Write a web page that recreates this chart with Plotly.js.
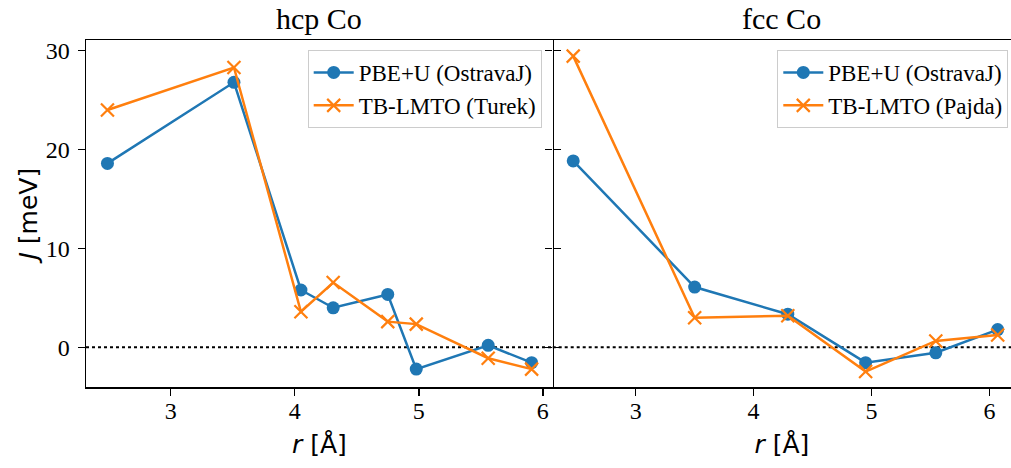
<!DOCTYPE html>
<html>
<head>
<meta charset="utf-8">
<script src="https://cdn.plot.ly/plotly-3.0.1.min.js"></script>
<style>html,body{margin:0;padding:0;background:#fff;}#chart{width:1011px;height:468px;}</style>
</head>
<body>
<div id="chart"></div>
<script>
// ---- data ----
const hcpR = [2.49, 3.51, 4.05, 4.31, 4.75, 4.98, 5.56, 5.91];
const hcpPBE = [18.6, 26.8, 5.8, 4.0, 5.35, -2.2, 0.2, -1.55];
const hcpTB = [24.0, 28.3, 3.6, 6.55, 2.6, 2.35, -1.1, -2.2];

const fccR = [2.47, 3.50, 4.29, 4.95, 5.545, 6.07];
const fccPBE = [18.85, 6.1, 3.35, -1.55, -0.55, 1.8];
const fccTB = [29.45, 3.0, 3.2, -2.45, 0.65, 1.25];

const panelTitles = ["hcp Co", "fcc Co"];
const nameBlue = "PBE+U (OstravaJ)";
const nameOrangeHcp = "TB-LMTO (Turek)";
const nameOrangeFcc = "TB-LMTO (Pajda)";
const xTicks = [3, 4, 5, 6];
const yTicks = [0, 10, 20, 30];

const BLUE = "#1f77b4", ORANGE = "#ff7f0e";
const SERIF = "Liberation Serif, serif";
const SANS = "DejaVu Sans, sans-serif";

const W = 1011, H = 468;
const px = v => v / W;
const py = v => (H - v) / H;

const blueStyle = () => ({mode: "lines+markers", line: {color: BLUE, width: 2.5}, marker: {symbol: "circle", size: 13, color: BLUE}});
const orangeStyle = () => ({mode: "lines+markers", line: {color: ORANGE, width: 2.5}, marker: {symbol: "x-thin", size: 13, color: ORANGE, line: {color: ORANGE, width: 2.2}}});

const traces = [
  Object.assign({x: hcpR, y: hcpPBE, name: nameBlue, xaxis: "x", yaxis: "y", legend: "legend"}, blueStyle()),
  Object.assign({x: hcpR, y: hcpTB, name: nameOrangeHcp, xaxis: "x", yaxis: "y", legend: "legend"}, orangeStyle()),
  Object.assign({x: fccR, y: fccPBE, name: nameBlue, xaxis: "x2", yaxis: "y2", legend: "legend2"}, blueStyle()),
  Object.assign({x: fccR, y: fccTB, name: nameOrangeFcc, xaxis: "x2", yaxis: "y2", legend: "legend2"}, orangeStyle())
];

const yDom = [py(387.3), py(40)];
const tickFont = () => ({family: SERIF, size: 24, color: "#000"});
const axTitleFont = () => ({family: SANS, size: 25, color: "#000"});

const xCommon = () => ({
  showline: true, linecolor: "#000", linewidth: 1.5, mirror: true,
  ticks: "outside", ticklen: 7, tickwidth: 1.5, tickcolor: "#000",
  tickvals: xTicks, tickfont: tickFont(), showgrid: false, zeroline: false,
  ticklabelstandoff: -6,
  automargin: false,
  title: {text: "<i>r</i> [Å]", font: axTitleFont(), standoff: 13}
});

const legendCommon = () => ({
  bgcolor: "rgba(255,255,255,0.8)", bordercolor: "#cccccc", borderwidth: 1,
  font: {family: SERIF, size: 23, color: "#000"},
  itemwidth: 40,
  xanchor: "right", yanchor: "top", xref: "paper", yref: "paper", y: py(50)
});

const layout = {
  width: W, height: H,
  margin: {l: 0, r: 0, t: 0, b: 0},
  paper_bgcolor: "#fff", plot_bgcolor: "#fff",
  showlegend: true,
  xaxis: Object.assign(xCommon(), {domain: [px(86), px(552.7)], range: [2.317, 6.08], anchor: "y"}),
  xaxis2: Object.assign(xCommon(), {domain: [px(552.7), 1], range: [2.296, 6.183], anchor: "y2"}),
  yaxis: {
    domain: yDom, range: [-4.04, 31.08], anchor: "x",
    showline: true, linecolor: "#000", linewidth: 1.5, mirror: "ticks",
    ticks: "outside", ticklen: 7, tickwidth: 1.5, tickcolor: "#000",
    tickvals: yTicks, tickfont: tickFont(), showgrid: false, zeroline: false,
    ticklabelstandoff: 3,
    automargin: false,
    title: {text: "<i>J</i> [meV]", font: axTitleFont(), standoff: 1}
  },
  yaxis2: {
    domain: yDom, range: [-4.04, 31.08], anchor: "x2", matches: "y",
    showline: false,
    ticks: "outside", ticklen: 7, tickwidth: 1.5, tickcolor: "#000",
    tickvals: yTicks, showticklabels: false, showgrid: false, zeroline: false,
    automargin: false
  },
  legend: Object.assign(legendCommon(), {x: px(541.7)}),
  legend2: Object.assign(legendCommon(), {x: px(1008.3)}),
  shapes: [
    {type: "line", xref: "x domain", yref: "y", x0: 0, x1: 1, y0: 0, y1: 0, line: {color: "#000", width: 2, dash: "dot"}, layer: "below"},
    {type: "line", xref: "x2 domain", yref: "y2", x0: 0, x1: 1, y0: 0, y1: 0, line: {color: "#000", width: 2, dash: "dot"}, layer: "below"}
  ],
  annotations: [
    {text: panelTitles[0], xref: "paper", yref: "paper", x: px(319.3), y: py(19), xanchor: "center", yanchor: "middle", showarrow: false, font: {family: SERIF, size: 30, color: "#000"}},
    {text: panelTitles[1], xref: "paper", yref: "paper", x: px(781.8), y: py(19), xanchor: "center", yanchor: "middle", showarrow: false, font: {family: SERIF, size: 30, color: "#000"}}
  ]
};

Plotly.newPlot("chart", traces, layout, {displayModeBar: false, staticPlot: true});
</script>
</body>
</html>
